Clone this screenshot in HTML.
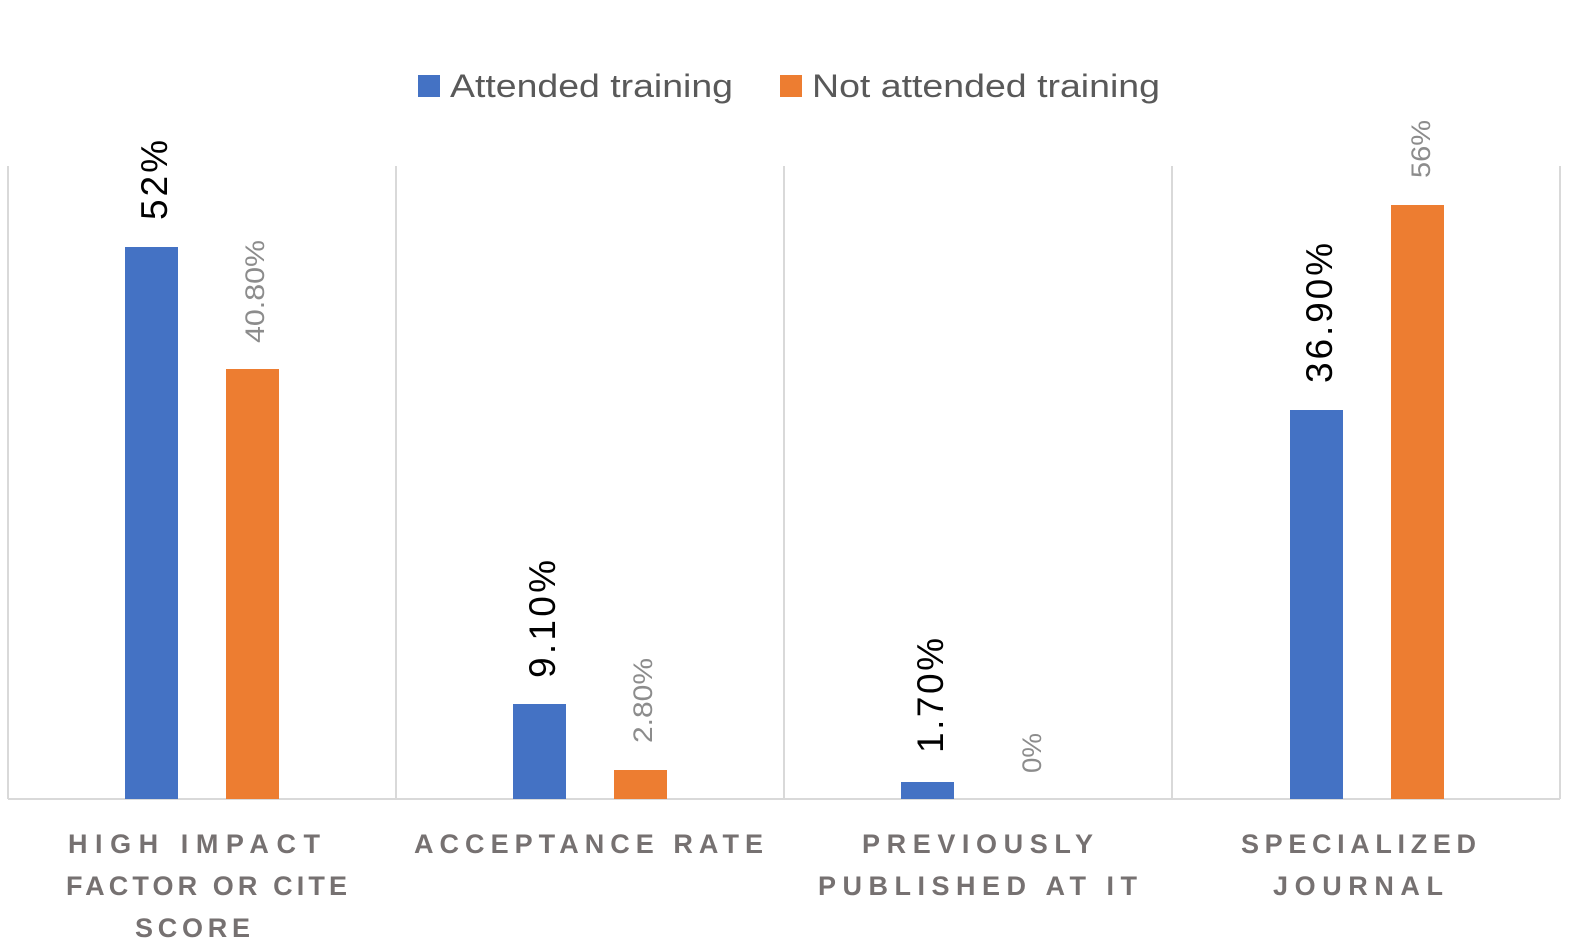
<!DOCTYPE html>
<html><head><meta charset="utf-8"><style>
html,body{margin:0;padding:0;background:#fff;}
svg{display:block;font-family:"Liberation Sans",Arial,sans-serif;}
</style></head><body>
<svg width="1581" height="951" viewBox="0 0 1581 951" xmlns="http://www.w3.org/2000/svg">
<rect width="1581" height="951" fill="#fff"/>
<rect x="418" y="75" width="22" height="22" fill="#4472C4"/>
<text x="450" y="97" font-size="32" fill="#595959" textLength="283" lengthAdjust="spacingAndGlyphs">Attended training</text>
<rect x="780" y="75" width="22" height="22" fill="#ED7D31"/>
<text x="812" y="97" font-size="32" fill="#595959" textLength="348" lengthAdjust="spacingAndGlyphs">Not attended training</text>
<g stroke="#D9D9D9" stroke-width="2">
<line x1="8" y1="166" x2="8" y2="799"/>
<line x1="396" y1="166" x2="396" y2="799"/>
<line x1="784" y1="166" x2="784" y2="799"/>
<line x1="1172" y1="166" x2="1172" y2="799"/>
<line x1="1560" y1="166" x2="1560" y2="799"/>
<line x1="8" y1="799" x2="1560" y2="799"/>
</g>
<rect x="125" y="247" width="53" height="552" fill="#4472C4"/>
<rect x="226" y="369" width="53" height="430" fill="#ED7D31"/>
<rect x="513" y="704" width="53" height="95" fill="#4472C4"/>
<rect x="614" y="770" width="53" height="29" fill="#ED7D31"/>
<rect x="901" y="782" width="53" height="17" fill="#4472C4"/>
<rect x="1290" y="410" width="53" height="389" fill="#4472C4"/>
<rect x="1391" y="205" width="53" height="594" fill="#ED7D31"/>
<g font-size="37" fill="#000" lengthAdjust="spacingAndGlyphs">
<text transform="translate(167,220) rotate(-90)" textLength="80">52%</text>
<text transform="translate(555,678) rotate(-90)" textLength="118">9.10%</text>
<text transform="translate(943,753) rotate(-90)" textLength="115">1.70%</text>
<text transform="translate(1332,383) rotate(-90)" textLength="140">36.90%</text>
</g>
<g font-size="27" fill="#8C8C8C">
<text transform="translate(264,343) rotate(-90)" textLength="103" lengthAdjust="spacingAndGlyphs">40.80%</text>
<text transform="translate(652,743) rotate(-90)" textLength="85" lengthAdjust="spacingAndGlyphs">2.80%</text>
<text transform="translate(1041,773) rotate(-90)" textLength="40" lengthAdjust="spacingAndGlyphs">0%</text>
<text transform="translate(1430,178) rotate(-90)" textLength="58" lengthAdjust="spacingAndGlyphs">56%</text>
</g>
<g font-size="27" font-weight="bold" fill="#767171" lengthAdjust="spacing">
<text x="68" y="853" textLength="252">HIGH IMPACT</text>
<text x="66" y="895" textLength="281">FACTOR OR CITE</text>
<text x="135" y="937" textLength="115">SCORE</text>
<text x="414" y="853" textLength="349">ACCEPTANCE RATE</text>
<text x="862" y="853" textLength="231">PREVIOUSLY</text>
<text x="818" y="895" textLength="319">PUBLISHED AT IT</text>
<text x="1241" y="853" textLength="235">SPECIALIZED</text>
<text x="1273" y="895" textLength="170">JOURNAL</text>
</g>
</svg>
</body></html>
